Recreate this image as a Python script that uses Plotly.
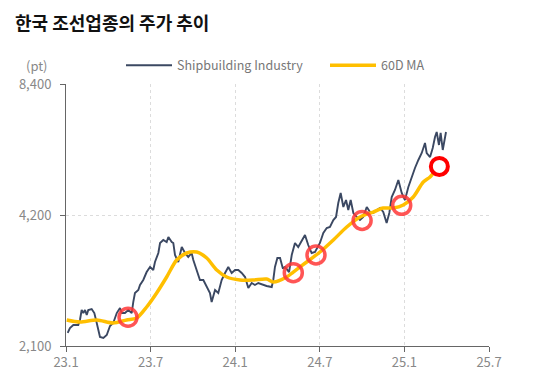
import plotly.graph_objects as go

# x in months since 2023-01 (0 = 23.1, 30 = 25.7)
ship_month = [0.12, 0.28, 0.52, 0.87, 0.99, 1.11, 1.23, 1.35, 1.47, 1.58, 1.82, 2.01, 2.18, 2.41, 2.65,
              2.89, 3.12, 3.35, 3.60, 3.83, 3.95, 4.18, 4.42, 4.66, 4.77, 4.89, 5.13, 5.25, 5.48, 5.72,
              5.96, 6.19, 6.31, 6.55, 6.67, 6.90, 7.14, 7.26, 7.50, 7.61, 7.73, 7.96, 8.21, 8.44, 8.67,
              8.91, 9.03, 9.27, 9.50, 9.74, 9.98, 10.21, 10.33, 10.57, 10.80, 11.04, 11.28, 11.51, 11.75,
              11.99, 12.22, 12.46, 12.70, 12.93, 13.17, 13.40, 13.64, 13.99, 14.23, 14.59, 14.70, 14.82,
              14.99, 15.18, 15.37, 15.53, 15.82, 16.01, 16.24, 16.47, 16.72, 16.95, 17.18, 17.42, 17.66,
              18.01, 18.25, 18.49, 18.72, 18.96, 19.15, 19.31, 19.48, 19.67, 19.86, 20.02, 20.19, 20.38,
              20.62, 20.85, 21.08, 21.33, 21.56, 21.79, 22.04, 22.27, 22.50, 22.74, 22.93, 23.10, 23.33,
              23.57, 23.81, 24.04, 24.28, 24.52, 24.75, 24.99, 25.23, 25.46, 25.58, 25.82, 26.01, 26.17,
              26.29, 26.45, 26.57, 26.72, 26.88, 26.95]
ship_value = [2250, 2310, 2347, 2347, 2410, 2541, 2500, 2541, 2474, 2541, 2554, 2500, 2372, 2202, 2191,
              2226, 2335, 2372, 2500, 2568, 2500, 2500, 2541, 2500, 2650, 2780, 2824, 2900, 2978, 3106,
              3190, 3139, 3275, 3435, 3622, 3680, 3641, 3738, 3641, 3622, 3399, 3275, 3546, 3435, 3363,
              3435, 3310, 3139, 2978, 2978, 2869, 2780, 2650, 2824, 2780, 2978, 3090, 3190, 3090,
              3139, 3139, 3090, 3025, 2854, 2931, 2900, 2931, 2900, 2885, 2869, 2978, 3190,
              3345, 3345, 3173, 3190, 3106, 3399, 3622, 3546, 3680, 3778, 3583, 3435, 3453,
              3622, 3818, 3921, 3941, 4090, 4156, 4475, 4718, 4381, 4547, 4313, 4547, 4245,
              4156, 4090, 4156, 4381, 4267, 4245, 4313, 4358, 4267, 4026, 4245, 4620, 4794,
              5054, 4718, 4547, 4871, 5135, 5386, 5619, 5831, 6148, 5831, 5708, 5987, 6346,
              6517, 6083, 6482, 5924, 6414, 6517]

ma_month = [0.05, 0.99, 2.18, 3.35, 4.30, 5.01, 5.72, 6.43, 7.14, 7.85, 8.56, 9.27, 9.98, 10.69, 11.40,
            12.34, 13.28, 14.23, 14.70, 15.65, 16.12, 17.07, 18.01, 18.96, 19.91, 20.85, 21.79, 22.50,
            23.21, 23.92, 24.63, 25.34, 25.82, 26.52, 26.88]
ma_value = [2410, 2384, 2410, 2372, 2410, 2435, 2581, 2780, 3025, 3310, 3435, 3453, 3345, 3139, 3025,
            2978, 2978, 2993, 2946, 3025, 3106, 3275, 3453, 3680, 3941, 4156, 4267, 4358,
            4358, 4428, 4620, 5001, 5135, 5472, 5619]

hl_month = [4.40, 16.12, 17.73, 21.00, 23.81]
hl_value = [2445, 3095, 3399, 4080, 4420]
last_month = [26.48]
last_value = [5430]

x_tickvals = [0, 6, 12, 18, 24, 30]
x_ticktext = ["23.1", "23.7", "24.1", "24.7", "25.1", "25.7"]
y_tickvals = [2100, 4200, 8400]
y_ticktext = ["2,100", "4,200", "8,400"]

FONT = "Noto Sans CJK KR"

# the page body has an 8px margin: figure coordinates = page coordinates - 8
W, H = 528, 379

fig = go.Figure()
fig.add_trace(go.Scatter(x=ship_month, y=ship_value, mode="lines", name="Shipbuilding Industry",
                         line=dict(color="#3b4862", width=1.9), legend="legend"))
fig.add_trace(go.Scatter(x=ma_month, y=ma_value, mode="lines", name="60D MA", legend="legend2",
                         line=dict(color="#ffbf00", width=3.5, shape="spline", smoothing=0.8)))
fig.add_trace(go.Scatter(x=hl_month, y=hl_value, mode="markers", showlegend=False,
                         marker=dict(symbol="circle-open", size=18, color="rgba(255,55,55,0.85)",
                                     line=dict(width=3.5, color="rgba(255,55,55,0.85)"))))
fig.add_trace(go.Scatter(x=last_month, y=last_value, mode="markers", showlegend=False,
                         marker=dict(symbol="circle", size=17, color="white",
                                     line=dict(width=4, color="#ff0000"))))

leg_common = dict(orientation="h", xanchor="left", y=1.07, yanchor="middle",
                  font=dict(family=FONT, size=12.5, color="#777777"), bgcolor="rgba(0,0,0,0)",
                  itemwidth=46)
fig.update_layout(
    width=W, height=H,
    margin=dict(l=58, r=47, t=76, b=41),
    paper_bgcolor="white", plot_bgcolor="white",
    font=dict(family=FONT, color="#888888", size=13),
    title=dict(text="<b>한국 조선업종의 주가 추이</b>", xref="container", x=7 / W, xanchor="left",
               yref="container", y=1 - 16 / H, yanchor="middle",
               font=dict(family=FONT, size=18, color="#111111")),
    legend=dict(x=(121 - 66) / 423, **leg_common),
    legend2=dict(x=(325 - 66) / 423, **leg_common),
    showlegend=True,
)
fig.update_xaxes(range=[0, 30], tickvals=x_tickvals, ticktext=x_ticktext,
                 showline=True, linecolor="#666666", linewidth=1,
                 ticks="outside", ticklen=5, tickcolor="#666666",
                 showgrid=True, gridcolor="#dcdcdc", griddash="dot", gridwidth=1,
                 zeroline=False, tickfont=dict(color="#888888", size=13), ticklabelstandoff=-1)
fig.update_yaxes(type="log", range=[3.32222, 3.92428], tickvals=y_tickvals, ticktext=y_ticktext,
                 showline=True, linecolor="#666666", linewidth=1,
                 ticks="outside", ticklen=5, tickcolor="#666666",
                 showgrid=True, gridcolor="#dcdcdc", griddash="dot", gridwidth=1,
                 zeroline=False, tickfont=dict(color="#888888", size=13), ticklabelstandoff=6)
fig.add_annotation(text="(pt)", xref="paper", yref="paper", x=-0.038, xanchor="right",
                   y=1.072, yanchor="middle", showarrow=False,
                   font=dict(family=FONT, size=13, color="#888888"))

fig.write_html("out.html")
